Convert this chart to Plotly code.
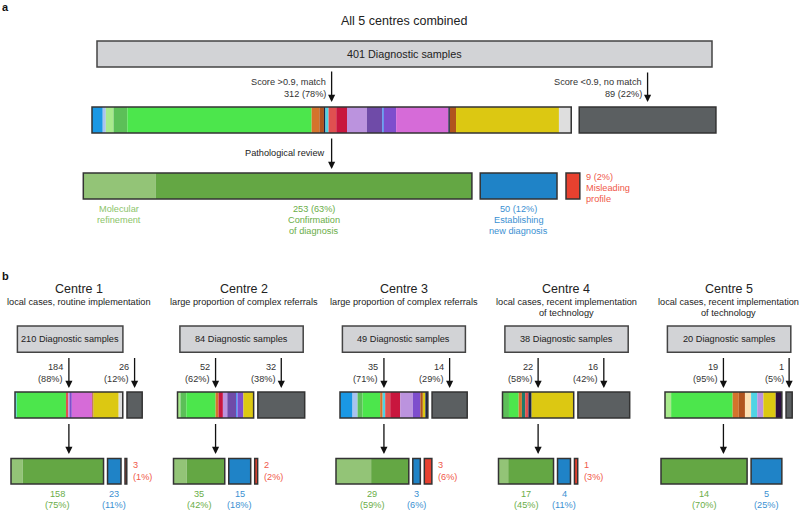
import plotly.graph_objects as go

# ---------------- DATA ----------------
overall_title = "All 5 centres combined"
overall_total = 401
overall_match = 312
overall_nomatch = 89
overall_refine = 47          # light-green part of the diagnostic-confirmation bar
overall_confirm = 253
overall_new = 50
overall_misleading = 9

overall_class_keys = ["blue", "lightblue", "palegreen", "midgreen", "green", "orange", "brown", "navy",
                      "cyan", "red", "crimson", "lavender", "darkpurple", "brightblue", "purple",
                      "magenta", "navy", "brown", "yellow", "lightgrey"]
overall_class_counts = [7, 2, 5, 9, 120, 5, 3, 1, 2, 5, 7, 13, 10, 1, 8, 34, 1, 4, 67, 8]

centre_names = ["Centre 1", "Centre 2", "Centre 3", "Centre 4", "Centre 5"]
centre_desc = ["local cases, routine implementation",
               "large proportion of complex referrals",
               "large proportion of complex referrals",
               "local cases, recent implementation<br>of technology",
               "local cases, recent implementation<br>of technology"]
centre_total = [210, 84, 49, 38, 20]
centre_match = [184, 52, 35, 22, 19]
centre_nomatch = [26, 32, 14, 16, 1]
centre_refine = [20, 9, 14, 3, 0]
centre_confirm = [158, 35, 29, 17, 14]
centre_new = [23, 15, 3, 4, 5]
centre_misleading = [3, 2, 3, 1, 0]

c1_class_keys = ["cyan", "green", "red", "lavender", "purple", "magenta", "brown", "yellow", "lightgrey"]
c1_class_counts = [3, 84, 4, 2, 4, 35, 2, 43, 7]
c2_class_keys = ["palegreen", "midgreen", "green", "orange", "crimson", "lavender", "darkpurple",
                 "brightblue", "purple", "yellow"]
c2_class_counts = [2, 4, 20, 2, 3, 3, 6, 1, 4, 7]
c3_class_keys = ["blue", "lightblue", "midgreen", "green", "orange", "cyan", "red", "crimson",
                 "lavender", "purple", "brown", "yellow", "navy"]
c3_class_counts = [5, 2, 2, 7, 1, 1, 2, 4, 5, 3, 1, 1, 1]
c4_class_keys = ["midgreen", "green", "orange", "teal", "red", "navy", "yellow"]
c4_class_counts = [2, 3, 1, 1, 1, 1, 13]
c5_class_keys = ["palegreen", "green", "orange", "brown", "peach", "cyan", "lavender", "yellow", "plum"]
c5_class_counts = [1, 10, 1, 1, 1, 1, 1, 2, 1]
centre_class_keys = [c1_class_keys, c2_class_keys, c3_class_keys, c4_class_keys, c5_class_keys]
centre_class_counts = [c1_class_counts, c2_class_counts, c3_class_counts, c4_class_counts, c5_class_counts]

# ---------------- STYLE ----------------
PALETTE = {
    "blue": "#1a98e4", "lightblue": "#a9c3ee", "palegreen": "#a8ea8c", "midgreen": "#5cbf58",
    "green": "#4ce64c", "orange": "#d4742c", "brown": "#b0541e", "navy": "#1c2648",
    "cyan": "#4fd4e4", "red": "#e05050", "crimson": "#c8163e", "lavender": "#bb93de",
    "darkpurple": "#6f4ba8", "brightblue": "#4a90f0", "purple": "#7e4ecd", "magenta": "#d66bd8",
    "yellow": "#dcc812", "lightgrey": "#dedede", "teal": "#1f7a6a", "peach": "#fde0b4",
    "plum": "#2c1040",
}
NOMATCH = "#5b5f61"
BOX = "#d2d3d6"
EDGE = "#333333"
LGREEN, DGREEN, BLUE, RED = "#93c477", "#64a744", "#1f83c7", "#e8412f"
T_LGREEN, T_DGREEN, T_BLUE, T_RED = "#8cc46a", "#6aad48", "#3b90d2", "#f0584a"
FONT = "Arial, Liberation Sans, sans-serif"

shapes, annots = [], []


def rect(x0, x1, y0, y1, fill, lw=0, lc=EDGE):
    shapes.append(dict(type="rect", xref="x", yref="y", x0=x0, x1=x1, y0=y0, y1=y1,
                       fillcolor=fill, line=dict(width=lw, color=lc), layer="above"))


def txt(x, y, s, size=9.2, color="#222", xa="center", bold=False):
    annots.append(dict(x=x, y=y, xref="x", yref="y", text=f"<b>{s}</b>" if bold else s,
                       showarrow=False, xanchor=xa, yanchor="middle",
                       font=dict(size=size, color=color, family=FONT)))


def arrow(x, y0, y1):
    annots.append(dict(x=x, y=y1, ax=x, ay=y0, xref="x", yref="y", axref="x", ayref="y",
                       text="", showarrow=True, arrowhead=2, arrowsize=1.1, arrowwidth=1.3,
                       arrowcolor="#111", standoff=0, startstandoff=0))


def pct(n, tot):
    return f"{round(100 * n / tot)}%"


def class_bar(x0, scale, keys, counts, y0, y1):
    x = x0
    for k, c in zip(keys, counts):
        w = c * scale
        rect(x, x + w, y0, y1, PALETTE[k])
        x += w
    rect(x0, x, y0, y1, "rgba(0,0,0,0)", lw=1.5)
    return x


# ---------------- PANEL A ----------------
txt(5, 7, "a", size=11, color="#111", bold=True)
txt(404, 21, overall_title, size=12.5, color="#222")
rect(97, 712, 41, 67, BOX, lw=1.5, lc="#444")
txt(404.5, 54, f"{overall_total} Diagnostic samples", size=10.8)

sa = 1.536
ax0 = 92
ya0, ya1 = 107, 133
x_end = class_bar(ax0, sa, overall_class_keys, overall_class_counts, ya0, ya1)
nm0 = x_end + 8
nm1 = nm0 + overall_nomatch * sa
rect(nm0, nm1, ya0, ya1, NOMATCH, lw=1.5)

xm = (ax0 + x_end) / 2
xn = (nm0 + nm1) / 2
arrow(xm, 70, 102)
arrow(xn, 71, 102)
txt(xm - 4, 82, "Score >0.9, match", xa="right", color="#333")
txt(xm - 4, 93.5, f"{overall_match} ({pct(overall_match, overall_total)})", xa="right", color="#333")
txt(xn - 4, 82, "Score <0.9, no match", xa="right", color="#333")
txt(xn - 4, 93.5, f"{overall_nomatch} ({pct(overall_nomatch, overall_total)})", xa="right", color="#333")

arrow(xm, 137, 169)
txt(xm - 5, 153, "Pathological review", xa="right", color="#222")

yb0, yb1 = 173, 199
bx0 = 83.3
bref = bx0 + overall_refine * sa
bcon = bx0 + overall_confirm * sa
rect(bx0, bref, yb0, yb1, LGREEN)
rect(bref, bcon, yb0, yb1, DGREEN)
rect(bx0, bcon, yb0, yb1, "rgba(0,0,0,0)", lw=1.5)
bn0 = bcon + 8.3
bn1 = bn0 + overall_new * sa
rect(bn0, bn1, yb0, yb1, BLUE, lw=1.5)
bm0 = bn1 + 9
bm1 = bm0 + overall_misleading * sa
rect(bm0, bm1, yb0, yb1, RED, lw=1.5)

txt((bx0 + bref) / 2, 209, "Molecular", color=T_LGREEN)
txt((bx0 + bref) / 2, 220, "refinement", color=T_LGREEN)
txt((bref + bcon) / 2, 209, f"{overall_confirm} ({pct(overall_confirm, overall_total)})", color=T_DGREEN)
txt((bref + bcon) / 2, 220, "Confirmation", color=T_DGREEN)
txt((bref + bcon) / 2, 231, "of diagnosis", color=T_DGREEN)
txt((bn0 + bn1) / 2, 209, f"{overall_new} ({pct(overall_new, overall_total)})", color=T_BLUE)
txt((bn0 + bn1) / 2, 220, "Establishing", color=T_BLUE)
txt((bn0 + bn1) / 2, 231, "new diagnosis", color=T_BLUE)
txt(bm1 + 4.5, 176.5, f"{overall_misleading} ({pct(overall_misleading, overall_total)})", xa="left", color=T_RED)
txt(bm1 + 4.5, 187.5, "Misleading", xa="left", color=T_RED)
txt(bm1 + 4.5, 198.5, "profile", xa="left", color=T_RED)

# ---------------- PANEL B ----------------
txt(5, 276, "b", size=11, color="#111", bold=True)
title_x = [78.5, 243.5, 404, 566, 728.5]
box_w = [105.5, 123.3, 123, 123.3, 123.4]
span = 123.0
for i in range(5):
    x0 = 15 + 162.5 * i
    s = span / centre_total[i]
    txt(title_x[i], 289, centre_names[i], size=12.5, color="#222")
    lines = centre_desc[i].split("<br>")
    for j, ln in enumerate(lines):
        txt(title_x[i], 302 + 10.7 * j, ln, size=9.2, color="#222")
    bxs = x0 + 2.4
    rect(bxs, bxs + box_w[i], 326, 352.3, BOX, lw=1.5, lc="#444")
    txt(bxs + box_w[i] / 2, 339.2, f"{centre_total[i]} Diagnostic samples", size=9.2)

    y0, y1 = 392, 418
    xe = class_bar(x0, s, centre_class_keys[i], centre_class_counts[i], y0, y1)
    n0 = xe + 4.2
    n1 = n0 + centre_nomatch[i] * s
    rect(n0, n1, y0, y1, NOMATCH, lw=1.5)
    xm = (x0 + xe) / 2
    xn = (n0 + n1) / 2
    arrow(xm, 356.5, 388)
    arrow(xn, 356.5, 388)
    txt(xm - 3.5, 367.3, f"{centre_match[i]}", xa="right", color="#333")
    txt(xm - 3.5, 379, f"({pct(centre_match[i], centre_total[i])})", xa="right", color="#333")
    txt(xn - 3.5, 367.3, f"{centre_nomatch[i]}", xa="right", color="#333")
    txt(xn - 3.5, 379, f"({pct(centre_nomatch[i], centre_total[i])})", xa="right", color="#333")

    arrow(xm, 422.5, 454)
    z0, z1 = 458.5, 484
    g0 = x0 - 4
    gr = g0 + centre_refine[i] * s
    gc = g0 + centre_confirm[i] * s
    if centre_refine[i] > 0:
        rect(g0, gr, z0, z1, LGREEN)
    rect(gr, gc, z0, z1, DGREEN)
    rect(g0, gc, z0, z1, "rgba(0,0,0,0)", lw=1.5)
    txt((g0 + gc) / 2, 493.5, f"{centre_confirm[i]}", color=T_DGREEN)
    txt((g0 + gc) / 2, 505, f"({pct(centre_confirm[i], centre_total[i])})", color=T_DGREEN)
    u0 = gc + 4
    u1 = u0 + centre_new[i] * s
    rect(u0, u1, z0, z1, BLUE, lw=1.5)
    txt((u0 + u1) / 2, 493.5, f"{centre_new[i]}", color=T_BLUE)
    txt((u0 + u1) / 2, 505, f"({pct(centre_new[i], centre_total[i])})", color=T_BLUE)
    if centre_misleading[i] > 0:
        r0 = u1 + 4
        r1 = r0 + centre_misleading[i] * s
        rect(r0, r1, z0, z1, RED, lw=1.5)
        txt(r1 + 4, 465, f"{centre_misleading[i]}", xa="left", color=T_RED)
        txt(r1 + 4, 476.7, f"({pct(centre_misleading[i], centre_total[i])})", xa="left", color=T_RED)

fig = go.Figure()
fig.add_trace(go.Scatter(x=[0, 800], y=[0, 511], mode="markers", marker=dict(opacity=0),
                         hoverinfo="skip", showlegend=False))
fig.update_layout(
    width=800, height=511, margin=dict(l=0, r=0, t=0, b=0),
    paper_bgcolor="white", plot_bgcolor="white",
    xaxis=dict(range=[0, 800], visible=False, fixedrange=True),
    yaxis=dict(range=[511, 0], visible=False, fixedrange=True),
    shapes=shapes, annotations=annots, showlegend=False,
)
fig.write_html("out.html", config={"displayModeBar": False},
               post_script="document.body.style.margin='0';document.body.style.overflow='hidden';")
